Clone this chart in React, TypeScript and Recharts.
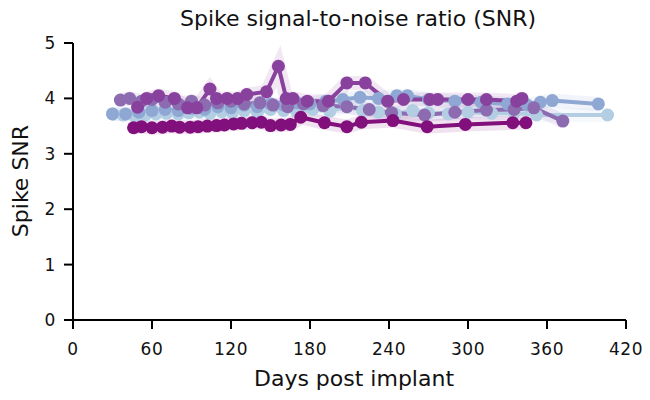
import { ComposedChart, Line, XAxis, YAxis } from "recharts";

// ── Data ──────────────────────────────────────────────────────────────────────

const X_TICKS = [0, 60, 120, 180, 240, 300, 360, 420];
const Y_TICKS = [0, 1, 2, 3, 4, 5];

const lightDays = [30, 38, 47, 55, 63, 71, 80, 88, 96, 104, 113, 121, 130, 140, 150, 160, 170, 182, 195, 208, 220, 232, 245, 258, 270, 285, 300, 318, 335, 352, 406];
const lightSnr  = [3.72, 3.70, 3.68, 3.70, 3.72, 3.73, 3.72, 3.74, 3.75, 3.73, 3.76, 3.74, 3.78, 3.75, 3.80, 3.78, 3.76, 3.80, 3.77, 3.85, 3.78, 3.75, 3.72, 3.78, 3.74, 3.72, 3.75, 3.73, 3.74, 3.70, 3.70];

const blueDays = [30, 40, 50, 60, 70, 80, 90, 100, 110, 120, 130, 140, 150, 160, 170, 180, 192, 205, 218, 232, 246, 254, 270, 290, 310, 330, 345, 355, 364, 399];
const blueSnr  = [3.72, 3.72, 3.75, 3.78, 3.80, 3.78, 3.82, 3.80, 3.85, 3.83, 3.88, 3.85, 3.90, 3.88, 3.92, 3.90, 3.95, 3.98, 4.02, 4.00, 4.05, 4.05, 3.98, 3.95, 3.93, 3.90, 3.88, 3.93, 3.96, 3.90];

const lavDays = [36, 43, 52, 60, 70, 80, 90, 100, 110, 120, 130, 142, 152, 163, 175, 190, 208, 225, 242, 267, 290, 314, 335, 350, 372];
const lavSnr  = [3.97, 4.00, 3.95, 3.98, 3.93, 3.90, 3.95, 3.88, 3.92, 3.95, 3.90, 3.92, 3.88, 3.85, 3.90, 3.87, 3.85, 3.80, 3.74, 3.70, 3.75, 3.79, 3.80, 3.83, 3.59];

const purpleDays = [49, 56, 65, 77, 87, 94, 104, 109, 117, 125, 132, 147, 156, 162, 167, 178, 194, 208, 222, 239, 251, 271, 277, 300, 314, 337, 341];
const purpleSnr  = [3.84, 4.00, 4.05, 4.00, 3.83, 3.83, 4.17, 4.00, 4.00, 4.00, 4.07, 4.12, 4.58, 4.00, 4.00, 3.95, 3.95, 4.28, 4.28, 3.95, 3.98, 3.98, 3.98, 3.98, 3.98, 3.95, 4.00];

const darkDays = [46, 52, 60, 68, 75, 81, 89, 95, 102, 109, 115, 122, 128, 136, 143, 150, 158, 165, 173, 191, 208, 219, 243, 269, 298, 334, 344];
const darkSnr  = [3.47, 3.49, 3.47, 3.48, 3.50, 3.48, 3.48, 3.49, 3.50, 3.51, 3.52, 3.54, 3.55, 3.56, 3.57, 3.51, 3.52, 3.53, 3.66, 3.56, 3.49, 3.57, 3.60, 3.49, 3.53, 3.56, 3.56];

// ── Series table ──────────────────────────────────────────────────────────────

const zip = (days: number[], snr: number[]) => days.map((d, i) => ({ day: d, snr: snr[i] }));

const SERIES = [
  { id: "light",  color: "#b3cde3", data: zip(lightDays, lightSnr) },
  { id: "blue",   color: "#8fa8d3", data: zip(blueDays, blueSnr) },
  { id: "lav",    color: "#8c6bb1", data: zip(lavDays, lavSnr) },
  { id: "purple", color: "#88419d", data: zip(purpleDays, purpleSnr) },
  { id: "dark",   color: "#810f7c", data: zip(darkDays, darkSnr) },
];

const FONT = "DejaVu Sans, sans-serif";
const tickStyle = { fill: "#111", fontSize: 17, fontFamily: FONT, letterSpacing: 0.6 };

export default function App() {
  return (
    <div style={{ position: "relative", width: 650, height: 400, background: "#fff", fontFamily: FONT }}>
      <style>{"body{margin:0}"}</style>

      <ComposedChart width={650} height={400} margin={{ top: 43, right: 24, bottom: 50, left: 0 }}>
        <XAxis
          type="number"
          dataKey="day"
          domain={[0, 420]}
          ticks={X_TICKS}
          height={30}
          allowDuplicatedCategory={false}
          axisLine={{ stroke: "#000", strokeWidth: 2 }}
          tickLine={{ stroke: "#000", strokeWidth: 2 }}
          tickSize={9}
          tickMargin={14}
          tick={tickStyle}
        />
        <YAxis
          type="number"
          domain={[0, 5]}
          ticks={Y_TICKS}
          width={73}
          axisLine={{ stroke: "#000", strokeWidth: 2 }}
          tickLine={{ stroke: "#000", strokeWidth: 2 }}
          tickSize={9}
          tickMargin={8}
          tick={tickStyle}
        />

        {/* pale halo under each line */}
        {SERIES.map((s) => (
          <Line
            key={s.id + "-halo"}
            data={s.data}
            dataKey="snr"
            stroke={s.color}
            strokeOpacity={0.12}
            strokeWidth={14}
            dot={false}
            activeDot={false}
            isAnimationActive={false}
          />
        ))}

        {SERIES.map((s) => (
          <Line
            key={s.id}
            data={s.data}
            dataKey="snr"
            stroke={s.color}
            strokeWidth={4}
            dot={{ r: 6.5, fill: s.color, stroke: s.color, strokeWidth: 0 }}
            activeDot={false}
            isAnimationActive={false}
          />
        ))}
      </ComposedChart>

      {/* Title */}
      <div style={{ position: "absolute", left: 0, width: 716, top: 8, textAlign: "center", fontSize: 22, lineHeight: "22px", color: "#111" }}>
        Spike signal-to-noise ratio (SNR)
      </div>

      {/* X label */}
      <div style={{ position: "absolute", left: 0, width: 708, top: 368, textAlign: "center", fontSize: 22, lineHeight: "22px", color: "#111" }}>
        Days post implant
      </div>

      {/* Y label */}
      <div style={{ position: "absolute", left: 21 - 100, top: 181 - 11, width: 200, height: 22, textAlign: "center", fontSize: 22, lineHeight: "22px", color: "#111", transform: "rotate(-90deg)" }}>
        Spike SNR
      </div>
    </div>
  );
}
